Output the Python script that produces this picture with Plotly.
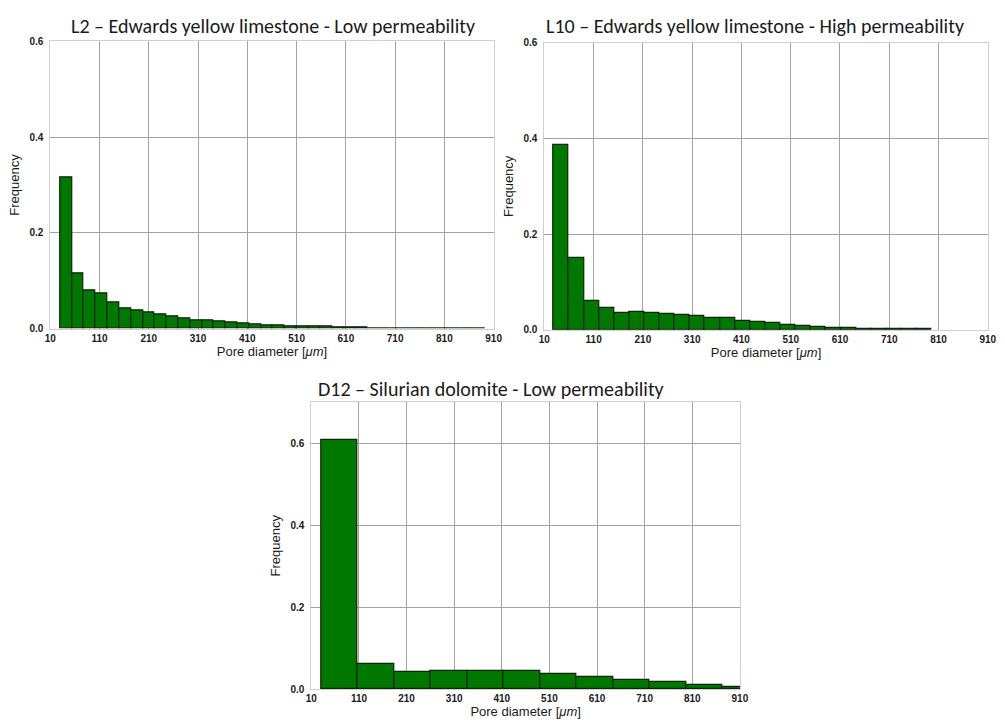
import plotly.graph_objects as go

# Pore-size histograms (relative frequency per bin), pore diameter in µm
l2_start, l2_width = 30.0, 23.98
l2_freq = [0.315, 0.115, 0.080, 0.073, 0.054, 0.042, 0.039, 0.034, 0.029, 0.025,
           0.021, 0.018, 0.017, 0.0145, 0.012, 0.010, 0.009, 0.007, 0.006, 0.0055,
           0.005, 0.004, 0.0035, 0.003, 0.002, 0.0015, 0.0012, 0.001, 0.001, 0.0008,
           0.0008, 0.0007, 0.0006, 0.0005, 0.0005, 0.0005]

l10_start, l10_width = 29.0, 30.67
l10_freq = [0.386, 0.150, 0.061, 0.046, 0.036, 0.0375, 0.036, 0.0335, 0.032, 0.029,
            0.025, 0.025, 0.018, 0.016, 0.0137, 0.011, 0.008, 0.006, 0.0048, 0.0034,
            0.0027, 0.002, 0.0014, 0.0012, 0.001]

d12_start, d12_width = 30.7, 76.6
d12_freq = [0.608, 0.063, 0.043, 0.046, 0.046, 0.045, 0.038, 0.030, 0.022, 0.017,
            0.010, 0.006]

titles = ["L2 \u2013 Edwards yellow limestone - Low permeability",
          "L10 \u2013 Edwards yellow limestone - High permeability",
          "D12 \u2013 Silurian dolomite - Low permeability"]
x_ticks = list(range(10, 911, 100))

W, H = 1005, 725
BAR_FILL = "#007800"
BAR_EDGE = "#0b250b"
GRID = "#a3a3a3"
FRAME = "#cfcfcf"
TICK_FONT = dict(family="Liberation Sans, Arial", size=10, color="#1a1a1a", weight="bold")
AX_FONT = dict(family="Liberation Sans, Arial", size=13, color="#1a1a1a")
TITLE_FONT = dict(family="Carlito, Lato, Noto Sans", size=20, color="#1a1a1a")

# plot areas in pixels: (left, right, top, bottom)
boxes = [(45, 495, 36, 328), (546.5, 996.7, 37.5, 329.3), (310, 745, 402.7, 695)]
y_max = [0.6, 0.6, 0.7]
series = [(l2_start, l2_width, l2_freq), (l10_start, l10_width, l10_freq),
          (d12_start, d12_width, d12_freq)]
title_pos = [(271, 20), (760, 20), (492, 389)]

fig = go.Figure()
layout = dict(width=W, height=H, margin=dict(l=0, r=0, t=0, b=0),
              paper_bgcolor="white", plot_bgcolor="white", showlegend=False,
              bargap=0)
annotations = []

for i, ((start, width, freq), box, ym, title, tp) in enumerate(
        zip(series, boxes, y_max, titles, title_pos)):
    n = i + 1
    xa = "x" if n == 1 else f"x{n}"
    ya = "y" if n == 1 else f"y{n}"
    centers = [start + width * (k + 0.5) for k in range(len(freq))]
    fig.add_trace(go.Bar(
        x=centers, y=freq, width=[width] * len(freq),
        marker=dict(color=BAR_FILL, line=dict(color=BAR_EDGE, width=1.2)),
        xaxis=xa, yaxis=ya, hoverinfo="x+y",
    ))
    left, right, top, bottom = box
    xdom = [left / W, right / W]
    ydom = [1 - bottom / H, 1 - top / H]
    layout["xaxis" if n == 1 else f"xaxis{n}"] = dict(
        domain=xdom, anchor=ya, range=[10, 910], tickvals=x_ticks,
        ticktext=[str(t) for t in x_ticks], tickfont=TICK_FONT, ticks="",
        showgrid=True, gridcolor=GRID, gridwidth=1, zeroline=False,
        showline=True, linecolor=FRAME, linewidth=1, mirror=True,
        title=dict(text="Pore diameter [<i>\u03bcm</i>]", font=AX_FONT, standoff=1),
    )
    yt = [0.0, 0.2, 0.4, 0.6]
    layout["yaxis" if n == 1 else f"yaxis{n}"] = dict(
        domain=ydom, anchor=xa, range=[0, ym], tickvals=yt,
        ticktext=[f"{v:.1f}" for v in yt], tickfont=TICK_FONT, ticks="",
        ticklabelstandoff=4,
        showgrid=True, gridcolor=GRID, gridwidth=1, zeroline=False,
        showline=True, linecolor=FRAME, linewidth=1, mirror=True,
        title=dict(text="Frequency", font=AX_FONT, standoff=6),
    )
    annotations.append(dict(
        text=title, xref="paper", yref="paper",
        x=tp[0] / W, y=1 - tp[1] / H,
        xanchor="center", yanchor="middle", showarrow=False, font=TITLE_FONT,
    ))

layout["annotations"] = annotations
fig.update_layout(**layout)
fig.write_html("out.html")
